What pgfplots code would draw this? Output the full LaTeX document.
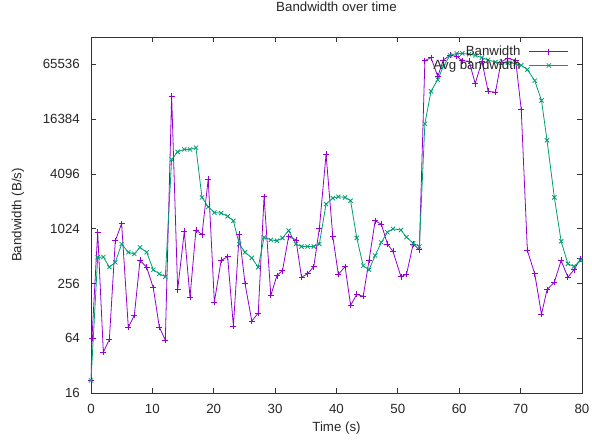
\documentclass[border=0pt]{standalone}
\usepackage{pgfplots}
\pgfplotsset{compat=1.18}
\usepackage{pgfplotstable}
\usepackage{fontspec}
\setmainfont{Liberation Sans}

\definecolor{gpPurple}{RGB}{148,0,211}
\definecolor{gpGreen}{RGB}{0,158,115}

% measured bandwidth (B/s)
\pgfplotstableread{
t     bw
0     22
0.16  64
1.09  935
2.01  45
2.99  62
3.96  753
4.99  1167
6.08  84
7.06  114
7.98  458
9.07  386
10.15 229
11.13 85
12.11 61
13.14 29300
14.12 218
15.2  956
16.13 181
17.1  990
18.08 881
19.1  3590
20.1  160
21.2  458
22.26 505
23.2  87
24.15 896
25.1  254
26.2  99
27.25 121
28.2  2300
29.3  189
30.3  313
31.2  355
32.2  839
33.4  771
34.3  300
35.3  327
36.3  393
37.2  1020
38.3  6750
39.4  839
40.3  322
41.4  393
42.3  147
43.3  194
44.35 185
45.3  458
46.3  1250
47.3  1150
48.3  694
49.2  577
50.5  304
51.4  322
52.5  694
53.5  600
54.4  71800
55.4  77900
56.5  48300
57.4  73200
58.5  82300
59.6  80200
60.5  71800
61.6  71000
62.6  40300
63.7  71000
64.7  33200
65.9  32300
66.8  69500
67.9  76800
69.2  71800
70.1  20900
71.1  590
72.3  327
73.4  117
74.3  218
75.5  265
76.6  458
77.7  300
78.7  362
79.75 478
}\bwdata

% running average
\pgfplotstableread{
t     avg
0     22
1.09  497
2.01  500
2.99  388
3.96  437
4.99  694
6.08  564
7.06  541
7.98  639
9.07  564
10.15 362
11.13 327
12.11 304
13.14 5900
14.12 7160
15.2  7620
16.13 7620
17.1  7970
18.08 2260
19.1  1780
20.1  1540
21.2  1520
22.26 1400
23.2  1250
24.15 694
25.1  564
26.2  489
27.25 386
28.2  822
29.3  771
30.3  755
31.2  810
32.2  975
33.4  694
34.3  652
35.3  652
36.3  652
37.2  694
38.3  1910
39.4  2220
40.3  2300
41.4  2260
42.3  2080
43.3  810
44.35 402
45.3  362
46.3  519
47.3  724
48.3  935
49.2  1020
50.5  990
51.4  826
52.5  708
53.5  652
54.4  14600
55.4  33200
56.5  44500
57.4  62200
58.5  82300
59.6  86500
60.5  86500
61.6  84800
62.6  82300
63.7  77900
64.7  73200
65.9  69500
66.8  68000
67.9  68000
69.2  67000
70.1  64000
71.1  57400
72.3  43400
73.4  26300
74.3  9600
75.5  2260
76.6  744
77.7  421
78.7  393
79.75 458
}\avgdata

\begin{document}
\fontsize{13.3bp}{15bp}\selectfont
\begin{tikzpicture}
\useasboundingbox (-91bp,-51bp) rectangle (501bp,393bp);
\begin{axis}[
    at={(0,0)}, anchor=south west,
    scale only axis,
    width=491bp, height=356bp,
    ymode=log,
    xmin=0, xmax=80,
    ymin=16, ymax=131072,
    xtick={0,10,...,80},
    ytick={16,64,256,1024,4096,16384,65536},
    yticklabels={16,64,256,1024,4096,16384,65536},
    minor tick num=0,
    tick align=inside,
    major tick length=5bp,
    axis line style={black!80, line width=0.8bp},
    every tick/.style={black!80, line width=0.8bp},
    /pgf/number format/assume math mode=true,
    xticklabel style={inner sep=0pt, text=black!85},
    yticklabel style={inner sep=0pt, text=black!85},
    xticklabel shift=11bp,
    yticklabel shift=11bp,
    title={Bandwidth over time},
    title style={at={(axis description cs:0.5,1.0674)}, anchor=center, text=black!85},
    xlabel={Time (s)},
    xlabel style={at={(axis description cs:0.5,-0.0983)}, anchor=center, text=black!85},
    ylabel={Bandwidth (B/s)},
    ylabel style={at={(axis description cs:-0.1487,0.5)}, anchor=center, text=black!85},
    legend plot pos=right,
    legend cell align=right,
    legend style={draw=none, fill=none,
        at={(axis description cs:0.9796,0.985)}, anchor=north east,
        row sep=-1bp, column sep=7bp, nodes={inner sep=1.5bp, text=black!85}},
    legend image code/.code={%
        \draw[mark repeat=2,mark phase=2,#1] plot coordinates {(0bp,0bp) (19.5bp,0bp) (39bp,0bp)};},
]
\addplot[color=gpPurple, line width=0.8bp, mark=+, mark size=3bp,
    mark options={line width=0.8bp}] table[x=t, y=bw] {\bwdata};
\addlegendentry{Banwidth}
\addplot[color=gpGreen, line width=0.8bp, mark=x, mark size=3bp,
    mark options={line width=0.8bp}] table[x=t, y=avg] {\avgdata};
\addlegendentry{Avg bandwidth}
\end{axis}
\end{tikzpicture}
\end{document}
